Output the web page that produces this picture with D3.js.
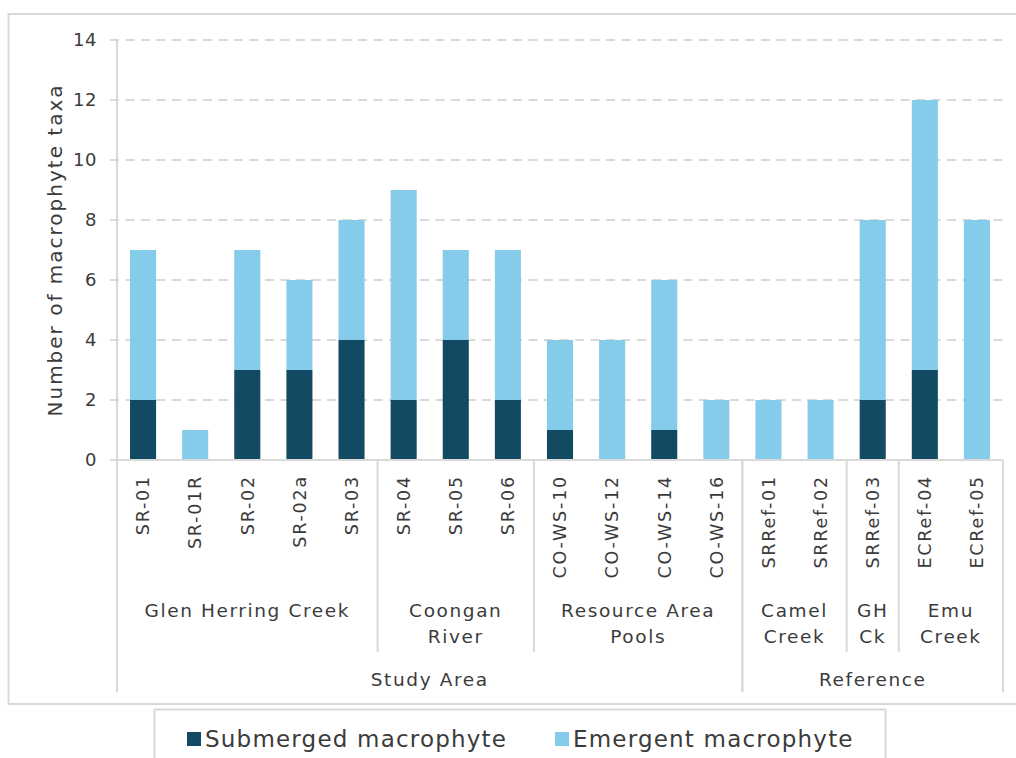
<!DOCTYPE html>
<html>
<head>
<meta charset="utf-8">
<script src="https://cdn.jsdelivr.net/npm/d3@7"></script>
<style>
  html, body { margin: 0; padding: 0; background: #fff; }
  svg { display: block; }
</style>
</head>
<body>
<svg id="chart" width="1016" height="758"></svg>
<script>
// Sampling sites (x categories)
const sites = ["SR-01", "SR-01R", "SR-02", "SR-02a", "SR-03", "SR-04", "SR-05", "SR-06",
  "CO-WS-10", "CO-WS-12", "CO-WS-14", "CO-WS-16",
  "SRRef-01", "SRRef-02", "SRRef-03", "ECRef-04", "ECRef-05"];

// Number of taxa per site
const submerged = [2, 0, 3, 3, 4, 2, 4, 2, 1, 0, 1, 0, 0, 0, 2, 3, 0];
const emergent  = [5, 1, 4, 3, 4, 7, 3, 5, 3, 4, 5, 2, 2, 2, 6, 9, 8];

// Waterbody groups (label lines, number of sites)
const waterbodyNames = [["Glen Herring Creek"], ["Coongan", "River"], ["Resource Area", "Pools"],
  ["Camel", "Creek"], ["GH", "Ck"], ["Emu", "Creek"]];
const waterbodySizes = [5, 3, 4, 2, 1, 2];

// Area groups
const areaNames = ["Study Area", "Reference"];
const areaSizes = [12, 5];

const yTicks = [0, 2, 4, 6, 8, 10, 12, 14];
const seriesNames = ["Submerged macrophyte", "Emergent macrophyte"];
const seriesColors = ["#134A63", "#85CBEA"];

const yTitle = "Number of macrophyte taxa";

const FONT = "'DejaVu Sans', sans-serif";
const TEXT = "#3b3b3b";
const GRID = "#d9d9d9";

const svg = d3.select("#chart");

const plot = { left: 117, right: 1003, top: 40, bottom: 460 };

const x = d3.scaleBand().domain(sites).range([plot.left, plot.right])
  .paddingInner(0.5).paddingOuter(0.25);
const y = d3.scaleLinear().domain([0, 14]).range([plot.bottom, plot.top]);

// Outer frame
svg.append("path")
  .attr("d", `M1020,14 H8.5 V704 H1020`)
  .attr("fill", "none").attr("stroke", GRID).attr("stroke-width", 2);

// Gridlines
svg.append("g").selectAll("line").data(yTicks.filter(d => d > 0)).join("line")
  .attr("x1", 110).attr("x2", plot.right)
  .attr("y1", d => y(d)).attr("y2", d => y(d))
  .attr("stroke", GRID).attr("stroke-width", 2).attr("stroke-dasharray", "9,6.5");

// Stacked bars
const rows = sites.map((s, i) => ({ site: s, sub: submerged[i], emg: emergent[i] }));
const stack = d3.stack().keys(["sub", "emg"])(rows);
svg.append("g").selectAll("g").data(stack).join("g")
  .attr("fill", (d, i) => seriesColors[i])
  .selectAll("rect").data(d => d).join("rect")
  .attr("x", d => x(d.data.site))
  .attr("width", x.bandwidth())
  .attr("y", d => y(d[1]))
  .attr("height", d => y(d[0]) - y(d[1]));

// Y axis line and ticks
svg.append("line").attr("x1", plot.left).attr("x2", plot.left)
  .attr("y1", plot.top).attr("y2", 692).attr("stroke", GRID).attr("stroke-width", 2);
svg.append("line").attr("x1", 110).attr("x2", plot.right)
  .attr("y1", plot.bottom).attr("y2", plot.bottom).attr("stroke", GRID).attr("stroke-width", 2);
svg.append("g").selectAll("line").data(yTicks).join("line")
  .attr("x1", 110).attr("x2", plot.left)
  .attr("y1", d => y(d)).attr("y2", d => y(d))
  .attr("stroke", GRID).attr("stroke-width", 2);

svg.append("g").selectAll("text").data(yTicks).join("text")
  .attr("x", 97).attr("y", d => y(d)).attr("dy", "0.36em")
  .attr("text-anchor", "end")
  .attr("font-family", FONT).attr("font-size", 18).attr("letter-spacing", 0.5).attr("fill", TEXT)
  .text(d => d);

svg.append("text")
  .attr("transform", `translate(62,250) rotate(-90)`)
  .attr("text-anchor", "middle")
  .attr("font-family", FONT).attr("font-size", 20).attr("letter-spacing", 2).attr("fill", TEXT)
  .text(yTitle);

// Site labels
svg.append("g").selectAll("text").data(sites).join("text")
  .attr("transform", d => `translate(${x(d) + x.bandwidth() / 2},475) rotate(-90)`)
  .attr("dy", "0.36em")
  .attr("text-anchor", "end")
  .attr("font-family", FONT).attr("font-size", 17.5).attr("letter-spacing", 1.8).attr("fill", TEXT)
  .text(d => d);

// Boundaries between bands
const step = x.step();
const edgeLeft = i => x(sites[i]) - (step - x.bandwidth()) / 2;
const edgeRight = i => x(sites[i]) + x.bandwidth() + (step - x.bandwidth()) / 2;

// Waterbody groups
let start = 0;
const wb = waterbodySizes.map((n, k) => {
  const g = { names: waterbodyNames[k], x0: start === 0 ? plot.left : edgeLeft(start), x1: edgeRight(start + n - 1) };
  start += n;
  return g;
});
start = 0;
const ar = areaSizes.map((n, k) => {
  const g = { name: areaNames[k], x0: start === 0 ? plot.left : edgeLeft(start), x1: start + n === sites.length ? plot.right : edgeRight(start + n - 1) };
  start += n;
  return g;
});

const areaEdges = new Set(ar.map(g => Math.round(g.x0)).concat(ar.map(g => Math.round(g.x1))));
const wbEdges = wb.map(g => g.x0).filter((v, i) => i > 0 && !areaEdges.has(Math.round(v)));

svg.append("g").selectAll("line").data(wbEdges).join("line")
  .attr("x1", d => d).attr("x2", d => d).attr("y1", plot.bottom).attr("y2", 652)
  .attr("stroke", GRID).attr("stroke-width", 2);

const areaLines = [...new Set(ar.flatMap(g => [g.x0, g.x1]))].filter(v => v !== plot.left);
svg.append("g").selectAll("line").data(areaLines).join("line")
  .attr("x1", d => d).attr("x2", d => d).attr("y1", plot.bottom).attr("y2", 692)
  .attr("stroke", GRID).attr("stroke-width", 2);

const wbText = svg.append("g").selectAll("text").data(wb).join("text")
  .attr("x", d => (d.x0 + d.x1) / 2).attr("y", 617)
  .attr("text-anchor", "middle")
  .attr("font-family", FONT).attr("font-size", 18.5).attr("letter-spacing", 1.6).attr("fill", TEXT);
wbText.selectAll("tspan").data(d => d.names.map(n => ({ n, cx: (d.x0 + d.x1) / 2 }))).join("tspan")
  .attr("x", d => d.cx).attr("dy", (d, i) => i === 0 ? 0 : 26)
  .text(d => d.n);

svg.append("g").selectAll("text").data(ar).join("text")
  .attr("x", d => (d.x0 + d.x1) / 2).attr("y", 686)
  .attr("text-anchor", "middle")
  .attr("font-family", FONT).attr("font-size", 18.5).attr("letter-spacing", 1.6).attr("fill", TEXT)
  .text(d => d.name);

// Legend
svg.append("rect").attr("x", 154.5).attr("y", 709.5).attr("width", 731).attr("height", 60)
  .attr("fill", "#fff").attr("stroke", GRID).attr("stroke-width", 2);
const legendX = [187, 555];
const lg = svg.append("g").selectAll("g").data(seriesNames).join("g")
  .attr("transform", (d, i) => `translate(${legendX[i]},732)`);
lg.append("rect").attr("width", 14).attr("height", 14).attr("fill", (d, i) => seriesColors[i]);
lg.append("text").attr("x", 18).attr("y", 7).attr("dy", "0.36em")
  .attr("font-family", FONT).attr("font-size", 23).attr("letter-spacing", 1.2).attr("fill", TEXT)
  .text(d => d);
</script>
</body>
</html>
